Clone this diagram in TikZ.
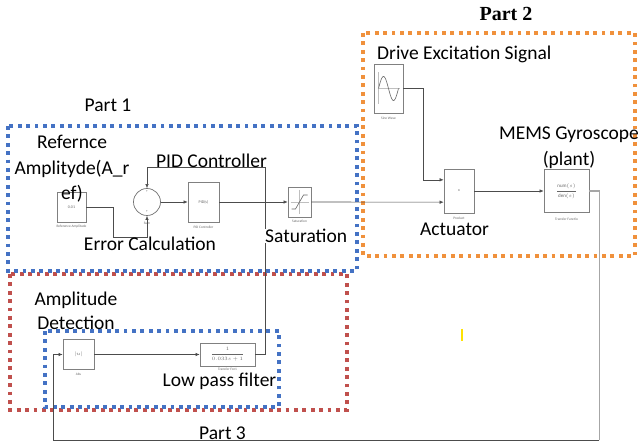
\documentclass[tikz,border=0pt]{standalone}
\usepackage{fontspec}
\setmainfont{Carlito}
\newfontfamily\serifbf{Liberation Serif}
\usetikzlibrary{arrows.meta,calc}
\definecolor{pblue}{RGB}{68,114,196}
\definecolor{porange}{RGB}{240,145,60}
\definecolor{pred}{RGB}{192,80,77}
\begin{document}
\begin{tikzpicture}[x=1pt,y=-1pt,
  blk/.style={draw=black!50, line width=0.7pt, fill=white, inner sep=0pt, font=\fontsize{4}{4}\selectfont, text=black!60},
  bcap/.style={font=\fontsize{3.5}{4}\selectfont, text=black!60, inner sep=0pt},
  lbl/.style={font=\fontsize{19.5}{25.5}\selectfont, inner sep=0pt, text=black},
  wire/.style={draw=black!70, line width=0.6pt},
  arr/.style={wire, -{Latex[length=4pt,width=3.5pt]}},
  dotbox/.style={line width=3.6pt, dash pattern=on 3.8pt off 4.6pt},
]
\useasboundingbox (0,0) rectangle (638,446);

% dotted group frames
\draw[dotbox, pred] (10,274) rectangle (347,410);
\draw[dotbox, pblue] (8,126) rectangle (357,271);
\draw[dotbox, pblue] (45,331) rectangle (279,407);
\draw[dotbox, porange] (363,33) rectangle (635,256);

% blocks
\node[blk, minimum width=29pt, minimum height=30pt] (ref) at (71.5,207) {0.01};
\node[bcap] (refcap) at (71.5,227) {Reference Amplitude};
\node[draw=black!55, line width=0.7pt, circle, minimum size=27pt, inner sep=0pt, fill=white] (sum) at (147,202) {};
\node[bcap] (sp1) at (147,191.5) {+};
\node[bcap] (sp2) at (147,212) {+};
\node[bcap] (sumcap) at (147,223) {Sum};
\node[blk, minimum width=31pt, minimum height=40pt] (pid) at (203.5,202) {PID(s)};
\node[bcap] (pidcap) at (203.5,227) {PID Controller};
\node[blk, minimum width=23pt, minimum height=30pt] (sat) at (299.5,202) {};
\node[bcap] (satcap) at (299.5,221) {Saturation};
\draw[black!25, line width=0.3pt] ($(sat.center)+(-9,0)$) -- ($(sat.center)+(9,0)$);
\draw[black!25, line width=0.3pt] ($(sat.center)+(0,-12)$) -- ($(sat.center)+(0,12)$);
\draw[black!60, line width=0.6pt] ($(sat.center)+(-8,7)$) -- ++(4,0) -- ++(8,-14) -- ++(4,0);

\node[blk, minimum width=29pt, minimum height=49pt] (sine) at (388.5,88.5) {};
\node[bcap] (sinecap) at (388.5,118) {Sine Wave};
\draw[black!25, line width=0.3pt] ($(sine.center)+(-11,0)$) -- ($(sine.center)+(11,0)$);
\draw[black!25, line width=0.3pt] ($(sine.center)+(-10,-16)$) -- ($(sine.center)+(-10,16)$);
\draw[black!60, line width=0.6pt, shift={(sine.center)}] plot[domain=-10:10, samples=40] (\x, {-12*sin(18*(\x+10))});

\node[blk, minimum width=30pt, minimum height=44pt] (prod) at (459,191) {x};
\node[bcap] (prodcap) at (459,218) {Product};
\node[blk, minimum width=45pt, minimum height=43pt] (tf) at (566.5,191) {\fontsize{5}{5}\selectfont$\displaystyle\frac{\mathrm{num}(s)}{\mathrm{den}(s)}$};
\node[bcap] (tfcap) at (566.5,219) {Transfer Functio};

\node[blk, minimum width=31pt, minimum height=30pt] (abs) at (78.5,354.5) {$|u|$};
\node[bcap] (abscap) at (78.5,374) {Abs};
\node[blk, minimum width=55pt, minimum height=23pt] (lpf) at (227.5,354.5) {\fontsize{5}{5}\selectfont$\displaystyle\frac{1}{0.033s+1}$};
\node[bcap] (lpfcap) at (227.5,369.5) {Transfer Fcn1};

% connectors
\coordinate (pin1) at ($(prod.north west)!0.25!(prod.south west)$);
\coordinate (pin2) at ($(prod.north west)!0.75!(prod.south west)$);
\draw[arr] (ref.east) -| (113,237) -| (sum.south);
\draw[arr] (sum.east) -- (pid.west);
\draw[arr] (pid.east) -- (sat.west);
\draw[arr] (sat.east) -- (pin2);
\draw[arr] (sine.east) -- ++(20,0) |- (pin1);
\draw[arr] (prod.east) -- (tf.west);
\draw[draw=black!35, line width=1.2pt] (tf.east) -- ++(10,0) coordinate (fbr) -- (fbr |- 0,440) coordinate (fbc);
\draw[arr] (fbc) -- (53,440) |- (abs.west);
\draw[arr] (abs.east) -- (lpf.west);
\draw[arr] (lpf.east) -| (265,167) -| (sum.north);

% labels
\node[lbl] (p1) at (108,105) {Part 1};
\node[lbl, font=\serifbf\bfseries\fontsize{20}{20}\selectfont] (p2) at (506,14) {Part 2};
\node[lbl] (p3) at (222.5,433) {Part 3};
\node[lbl, align=center] (refl) at (72,169) {Refernce\\Amplityde(A\_r\\ef)};
\node[lbl] (pidl) at (211.5,161) {PID Controller};
\node[lbl] (errl) at (150,244) {Error Calculation};
\node[lbl, fill=white, anchor=west] (satl) at (265,236) {Saturation};
\node[lbl] (actl) at (454.5,229) {Actuator};
\node[lbl, align=center] (memsl) at (569,147.5) {MEMS Gyroscope\\(plant)};
\node[lbl, anchor=west] (drvl) at (377,54) {Drive Excitation Signal};
\node[lbl, align=center, font=\fontsize{19.5}{24}\selectfont] (ampl) at (76,311) {Amplitude\\Detection};
\node[lbl] (lpfl) at (219.5,381.5) {Low pass filter};

% yellow cursor mark
\draw[yellow!85!orange, line width=2pt] (462,329) -- (462,341);
\end{tikzpicture}
\end{document}
